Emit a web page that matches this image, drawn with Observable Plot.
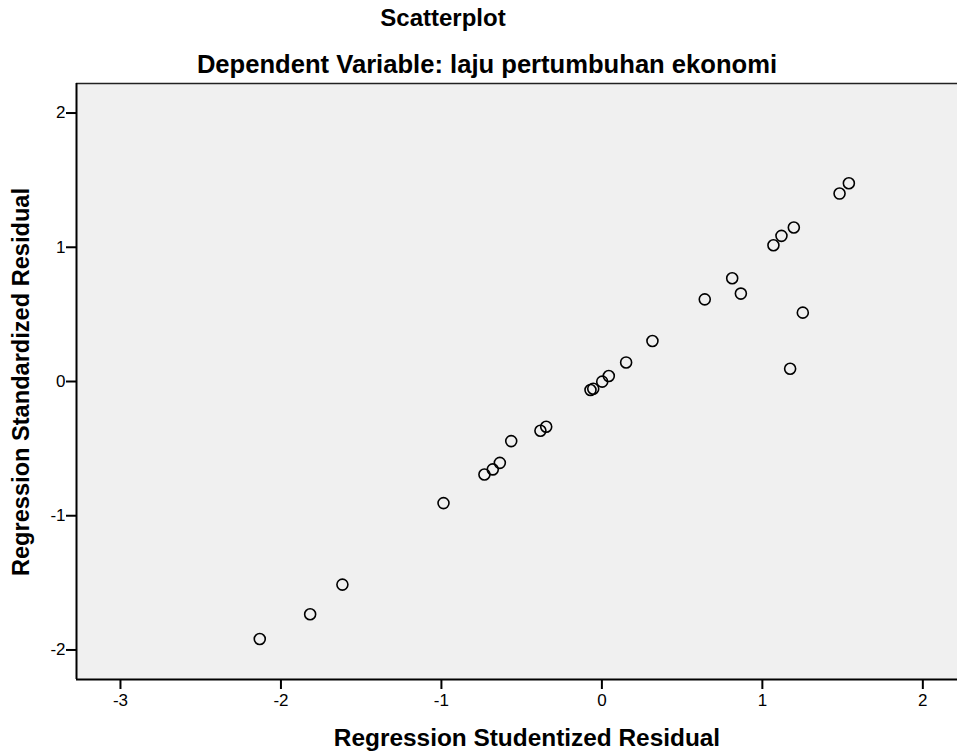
<!DOCTYPE html>
<html>
<head>
<meta charset="utf-8">
<script src="https://cdn.jsdelivr.net/npm/d3@7"></script>
<script src="https://cdn.jsdelivr.net/npm/@observablehq/plot@0.6"></script>
<style>
  html, body { margin: 0; padding: 0; background: #fff; }
  #wrap { position: relative; width: 957px; height: 753px; font-family: "Liberation Sans", Arial, sans-serif; }
  .t { position: absolute; font-weight: bold; color: #000; white-space: nowrap; line-height: 1; }
  #chart svg g[aria-label$="tick label"] text { font-size: 17px !important; }
  #chart svg g[aria-label$="tick label"] { font-size: 17px !important; }
</style>
</head>
<body>
<div id="wrap">
  <div id="chart" style="position:absolute;left:0;top:0;"></div>
  <div class="t" id="title" style="font-size:24px; left:443px; top:6px; transform:translateX(-50%);">Scatterplot</div>
  <div class="t" id="subtitle" style="font-size:25.6px; left:487px; top:52px; transform:translateX(-50%);">Dependent Variable: laju pertumbuhan ekonomi</div>
  <div class="t" id="xlabel" style="font-size:24.4px; left:527px; top:726px; transform:translateX(-50%);">Regression Studentized Residual</div>
  <div class="t" id="ylabel" style="font-size:23.6px; left:22px; top:382px; transform:translate(-50%,-50%) rotate(-90deg);">Regression Standardized Residual</div>
</div>
<script>
// Regression Studentized Residual (x)
const studentized = [-2.132, -1.818, -1.617, -0.987, -0.732, -0.680, -0.636, -0.565, -0.383, -0.347,
  -0.071, -0.054, 0.002, 0.043, 0.151, 0.315, 0.641, 0.812, 0.866, 1.069, 1.119, 1.196, 1.173, 1.252, 1.481, 1.539];
// Regression Standardized Residual (y)
const standardized = [-1.918, -1.734, -1.513, -0.906, -0.693, -0.655, -0.606, -0.444, -0.367, -0.337,
  -0.063, -0.054, -0.001, 0.041, 0.142, 0.302, 0.612, 0.769, 0.655, 1.015, 1.085, 1.147, 0.095, 0.513, 1.400, 1.477];
const xTicks = [-3, -2, -1, 0, 1, 2];
const yTicks = [-2, -1, 0, 1, 2];

const data = studentized.map((x, i) => ({x, y: standardized[i]}));
const xDomain = [-3.274, 2.216];
const yDomain = [-2.22, 2.22];

const chart = Plot.plot({
  width: 957,
  height: 753,
  marginTop: 83,
  marginBottom: 74,
  marginLeft: 76,
  marginRight: 0,
  style: {fontFamily: "'Liberation Sans', Arial, sans-serif", fontSize: "17px", background: "transparent", color: "#000"},
  x: {domain: xDomain},
  y: {domain: yDomain},
  marks: [
    Plot.frame({fill: "#f0f0f0", stroke: null}),
    Plot.ruleY([yDomain[1]], {stroke: "#222", strokeWidth: 1.5}),
    Plot.ruleX([xDomain[0]], {stroke: "#000", strokeWidth: 2}),
    Plot.ruleY([yDomain[0]], {stroke: "#000", strokeWidth: 2}),
    Plot.axisX(xTicks, {tickSize: 10, tickPadding: 4, strokeWidth: 2, fontSize: 17, label: null, tickFormat: d => String(d)}),
    Plot.axisY(yTicks, {tickSize: 10, tickPadding: 1, strokeWidth: 2, fontSize: 17, label: null, tickFormat: d => String(d)}),
    Plot.dot(data, {x: "x", y: "y", r: 5.5, stroke: "#000", strokeWidth: 1.6, fill: "none"})
  ]
});
document.getElementById("chart").appendChild(chart);
</script>
</body>
</html>
